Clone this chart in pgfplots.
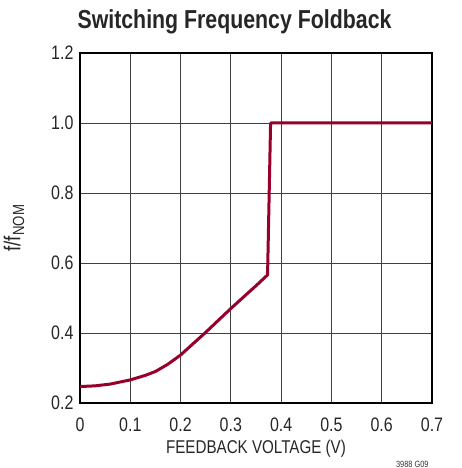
\documentclass[border=0pt]{standalone}
\usepackage{pgfplots}
\pgfplotsset{compat=1.18}
\usepackage{fontspec}
\setmainfont{Liberation Sans}[FakeStretch=0.82]
\definecolor{curve}{RGB}{150,0,42}
\begin{document}
\begin{tikzpicture}[x=1pt,y=1pt]
\useasboundingbox (0,0) rectangle (461,468);
\begin{axis}[
  at={(80pt,65pt)}, anchor=south west,
  scale only axis, width=352pt, height=350pt,
  xmin=0, xmax=0.7, ymin=0.2, ymax=1.2,
  xtick={0,0.1,...,0.7}, ytick={0.2,0.4,...,1.2},
  xticklabels={0,0.1,0.2,0.3,0.4,0.5,0.6,0.7},
  yticklabels={0.2,0.4,0.6,0.8,1.0,1.2},
  major tick length=0pt,
  grid=major,
  grid style={black!75, line width=0.9pt},
  axis line style={black, line width=1.3pt},
  tick label style={font=\fontsize{19.5}{21}\selectfont, text=black!85},
  xticklabel style={yshift=-11pt},
  yticklabel style={xshift=-3pt},
  xlabel={FEEDBACK VOLTAGE (V)},
  ylabel={f/f\textsubscript{NOM}},
  label style={font=\fontsize{18.5}{20}\selectfont, text=black!85},
  xlabel style={yshift=-2pt},
  ylabel style={yshift=20pt, font=\fontsize{23}{24}\selectfont},
  clip=false,
]
\addplot[curve, line width=3pt, line join=round] coordinates {
(0,0.247) (0.03,0.249) (0.06,0.254) (0.1,0.266) (0.13,0.279) (0.15,0.290) (0.175,0.311) (0.2,0.337)
(0.25,0.402) (0.3,0.470) (0.35,0.535) (0.373,0.566) (0.379,1.0) (0.7,1.0)
};
\end{axis}
\node[font=\bfseries\fontsize{26}{28}\selectfont, text=black!85] at (234.5,446) {Switching Frequency Foldback};
\node[font=\fontsize{9}{10}\selectfont, text=black!80, anchor=south east] at (432,-3) {3988 G09};
\end{tikzpicture}
\end{document}
